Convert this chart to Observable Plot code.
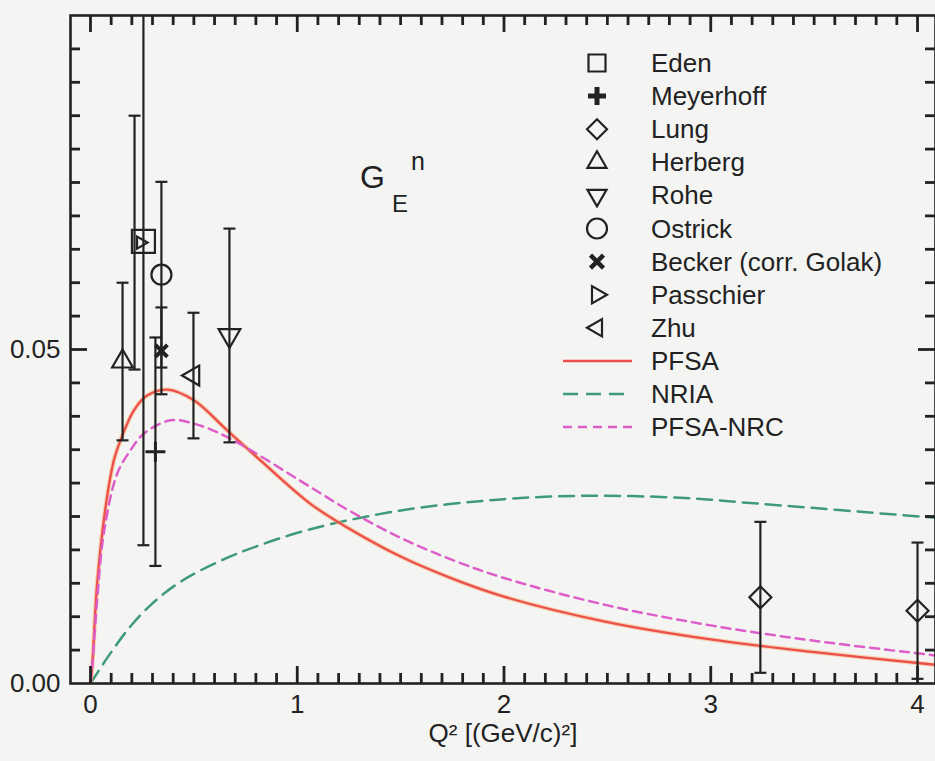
<!DOCTYPE html>
<html>
<head>
<meta charset="utf-8">
<script src="https://cdn.jsdelivr.net/npm/d3@7"></script>
<script src="https://cdn.jsdelivr.net/npm/@observablehq/plot@0.6"></script>
<style>
  html, body { margin: 0; padding: 0; background: #f4f5f3; }
  #wrap { position: relative; width: 935px; height: 761px; overflow: hidden; }
  #overlay { position: absolute; left: 0; top: 0; pointer-events: none; }
  text { font-family: "Liberation Sans", Arial, Helvetica, sans-serif; }
</style>
</head>
<body>
<div id="wrap"></div>
<script>
// ---------------- data ----------------
// experimental points
const expSeries = ["Eden", "Meyerhoff", "Lung", "Lung", "Herberg", "Rohe", "Ostrick", "Becker (corr. Golak)", "Passchier", "Zhu"];
const expQ2     = [0.256, 0.314, 3.24, 4.00, 0.155, 0.672, 0.343, 0.343, 0.213, 0.498];
const expGE     = [0.0662, 0.0347, 0.0129, 0.0109, 0.0482, 0.0521, 0.0612, 0.0498, 0.0660, 0.0461];
const expErr    = [0.0455, 0.0171, 0.0113, 0.0102, 0.0118, 0.0160, 0.0139, 0.0065, 0.0190, 0.0094];

// theory curves
const pfsaQ2 = [0, 0.008, 0.032, 0.073, 0.113, 0.145, 0.21, 0.274, 0.371, 0.50, 0.661, 0.822, 1.064, 1.25, 1.5, 1.75, 2.0, 2.5, 3.0, 3.5, 4.087];
const pfsaGE = [0, 0.0024, 0.0149, 0.0264, 0.0334, 0.0364, 0.0409, 0.0431, 0.0440, 0.0424, 0.0379, 0.0334, 0.0269, 0.0232, 0.0190, 0.0157, 0.0130, 0.0092, 0.0066, 0.0047, 0.0028];

const nrcQ2 = [0, 0.012, 0.032, 0.064, 0.129, 0.193, 0.258, 0.387, 0.50, 0.661, 1.064, 1.25, 1.5, 1.75, 2.0, 2.5, 3.0, 3.5, 4.087];
const nrcGE = [0, 0.0040, 0.0124, 0.0224, 0.0314, 0.0349, 0.0374, 0.0394, 0.0389, 0.0369, 0.0294, 0.0259, 0.0218, 0.0185, 0.0158, 0.0117, 0.0087, 0.0064, 0.0042];

const nriaQ2 = [0, 0.1, 0.2, 0.3, 0.4, 0.5, 0.66, 0.8, 1.064, 1.5, 2.0, 2.4, 2.854, 3.24, 4.087];
const nriaGE = [0, 0.0047, 0.0088, 0.0120, 0.0145, 0.0164, 0.0188, 0.0205, 0.0231, 0.0259, 0.0276, 0.0281, 0.0278, 0.0269, 0.0248];

// axes
const xTickValues = [0, 1, 2, 3, 4];
const yTickValues = [0, 0.05];
const legendNames = ["Eden", "Meyerhoff", "Lung", "Herberg", "Rohe", "Ostrick", "Becker (corr. Golak)", "Passchier", "Zhu", "PFSA", "NRIA", "PFSA-NRC"];
const xLabel = "Q\u00B2 [(GeV/c)\u00B2]";

// ---------------- styling ----------------
const INK = "#222222";
const RED = "#ec4f4c";
const GREEN = "#3e9a7a";
const MAGENTA = "#de5ec9";
const X0 = -0.0967, X1 = 4.087, Y0 = 0, Y1 = 0.1;
const pxX = 206.75, pxY = 6680; // pixels per data unit, for tick lengths

// custom symbols (radius r in px)
const shapes = {
  square: (c, r) => { c.rect(-r, -r, 2 * r, 2 * r); },
  circle: (c, r) => { c.moveTo(r, 0); c.arc(0, 0, r, 0, 2 * Math.PI); },
  diamond: (c, r) => { c.moveTo(0, -r); c.lineTo(r, 0); c.lineTo(0, r); c.lineTo(-r, 0); c.closePath(); },
  plus: (c, r) => { c.moveTo(-r, 0); c.lineTo(r, 0); c.moveTo(0, -r); c.lineTo(0, r); },
  times: (c, r) => { c.moveTo(-r, -r); c.lineTo(r, r); c.moveTo(-r, r); c.lineTo(r, -r); },
  cap: (c, r) => { c.moveTo(-r, 0); c.lineTo(r, 0); },
};
function tri(deg) {
  return (c, r) => {
    for (let k = 0; k < 3; k++) {
      const a = (deg + k * 120) * Math.PI / 180;
      const px = r * Math.cos(a), py = r * Math.sin(a);
      k ? c.lineTo(px, py) : c.moveTo(px, py);
    }
    c.closePath();
  };
}
shapes.triUp = tri(-90);
shapes.triDown = tri(90);
shapes.triLeft = tri(180);
shapes.triRight = tri(0);
const asSymbol = (f) => ({ draw(ctx, size) { f(ctx, Math.sqrt(size / Math.PI)); } });

const seriesStyle = {
  "Eden":                 { shape: "square",   r: 11.5, sw: 2.2, lr: 8.5, lsw: 2.2, dx: 0 },
  "Meyerhoff":            { shape: "plus",     r: 10,   sw: 3,   lr: 9,   lsw: 5,   dx: 0 },
  "Lung":                 { shape: "diamond",  r: 11,   sw: 2.2, lr: 10,  lsw: 2.2, dx: 0 },
  "Herberg":              { shape: "triUp",    r: 12,   sw: 2.2, lr: 11,  lsw: 2.2, dx: 0 },
  "Rohe":                 { shape: "triDown",  r: 12.5, sw: 2.2, lr: 11,  lsw: 2.2, dx: 0 },
  "Ostrick":              { shape: "circle",   r: 10,   sw: 2.2, lr: 10,  lsw: 2.2, dx: 0 },
  "Becker (corr. Golak)": { shape: "times",    r: 6,    sw: 4,   lr: 6.5, lsw: 4.5, dx: 0 },
  "Passchier":            { shape: "triRight", r: 7,    sw: 2.2, lr: 10,  lsw: 2.2, dx: 6 },
  "Zhu":                  { shape: "triLeft",  r: 11.5, sw: 2.2, lr: 10,  lsw: 2.2, dx: 0 },
};

// ---------------- tables ----------------
const pts = expSeries.map((s, i) => ({ series: s, q: expQ2[i], g: expGE[i], e: expErr[i] }));
const caps = pts.flatMap(d => [{ q: d.q, g: d.g - d.e }, { q: d.q, g: d.g + d.e }]);
const toRows = (qs, gs) => qs.map((q, i) => ({ q, g: gs[i] }));
const pfsa = toRows(pfsaQ2, pfsaGE), nrc = toRows(nrcQ2, nrcGE), nria = toRows(nriaQ2, nriaGE);

// tick tables (value + length in px)
const MAJ = 17, MIN = 10;
const xTicks = d3.range(0, 41).map(i => ({ v: i / 10, len: i % 10 === 0 ? MAJ : MIN }));
const yTicks = d3.range(1, 20).map(i => ({ v: i * 0.005, len: i === 10 ? MAJ : MIN }));
const TK = { stroke: INK, strokeWidth: 2.8 };

const marks = [
  // theory curves
  Plot.line(nria, { x: "q", y: "g", curve: "catmull-rom", stroke: GREEN, strokeWidth: 2.5, strokeDasharray: "15,8", clip: true }),
  Plot.line(pfsa, { x: "q", y: "g", curve: "catmull-rom", stroke: "#f7b070", strokeWidth: 4.5, strokeOpacity: 0.5, clip: true }),
  Plot.line(pfsa, { x: "q", y: "g", curve: "catmull-rom", stroke: RED, strokeWidth: 2.3, clip: true }),
  Plot.line(nrc, { x: "q", y: "g", curve: "catmull-rom", stroke: MAGENTA, strokeWidth: 2.5, strokeDasharray: "9,6", clip: true }),
  // error bars
  Plot.ruleX(pts, { x: "q", y1: d => d.g - d.e, y2: d => d.g + d.e, stroke: INK, strokeWidth: 2.2, clip: true }),
  Plot.dot(caps, { x: "q", y: "g", symbol: asSymbol(shapes.cap), r: 6, stroke: INK, strokeWidth: 2.2, fill: "none", clip: true }),
];
// markers, one dot mark per experiment
for (const [name, st] of Object.entries(seriesStyle)) {
  marks.push(Plot.dot(pts.filter(d => d.series === name), {
    x: "q", y: "g", symbol: asSymbol(shapes[st.shape]), r: st.r, dx: st.dx,
    stroke: INK, strokeWidth: st.sw, fill: "none", strokeLinejoin: "miter"
  }));
}
marks.push(Plot.frame({ stroke: INK, strokeWidth: 2.6 }));
// inward ticks on all four sides
marks.push(
  Plot.ruleX(xTicks, { x: d => d.v, y1: Y0, y2: d => Y0 + d.len / pxY, ...TK }),
  Plot.ruleX(xTicks, { x: d => d.v, y1: d => Y1 - d.len / pxY, y2: Y1, ...TK }),
  Plot.ruleY(yTicks, { y: d => d.v, x1: X0, x2: d => X0 + d.len / pxX, ...TK }),
  Plot.ruleY(yTicks, { y: d => d.v, x1: d => X1 - d.len / pxX, x2: X1, ...TK })
);
marks.push(Plot.text([xLabel], { frameAnchor: "bottom", dy: 58, fontSize: 26, fill: INK }));

const chart = Plot.plot({
  width: 935, height: 761,
  marginLeft: 70, marginRight: 0, marginTop: 15, marginBottom: 78,
  style: { background: "transparent", fontFamily: "'Liberation Sans', Arial, Helvetica, sans-serif", fontSize: "26px", color: INK },
  x: { domain: [X0, X1], ticks: xTickValues, tickSize: 0, tickPadding: 11, tickFormat: d3.format("d"), label: null },
  y: { domain: [Y0, Y1], ticks: yTickValues, tickSize: 0, tickPadding: 10, tickFormat: d3.format(".2f"), label: null },
  marks
});
const wrap = document.getElementById("wrap");
wrap.appendChild(chart);

// ---------------- overlay: legend and panel label ----------------
const ov = d3.select(wrap).append("svg").attr("id", "overlay").attr("width", 935).attr("height", 761);

// G_E^n label
const lab = ov.append("g").attr("fill", INK);
lab.append("text").attr("x", 360).attr("y", 188).attr("font-size", 32).text("G");
lab.append("text").attr("x", 392).attr("y", 212).attr("font-size", 24).text("E");
lab.append("text").attr("x", 411).attr("y", 170).attr("font-size", 25).text("n");

const rowY0 = 63, rowStep = 33.1, symX = 597, textX = 651;
const lineStyles = {
  "PFSA": { stroke: RED, dash: null },
  "NRIA": { stroke: GREEN, dash: "15,8" },
  "PFSA-NRC": { stroke: MAGENTA, dash: "9,6" },
};
legendNames.forEach((name, i) => {
  const cy = rowY0 + i * rowStep;
  const g = ov.append("g");
  if (seriesStyle[name]) {
    const st = seriesStyle[name];
    const p = d3.path();
    shapes[st.shape](p, st.lr);
    g.append("path").attr("d", p.toString()).attr("transform", `translate(${symX},${cy})`)
      .attr("fill", "none").attr("stroke", INK).attr("stroke-width", st.lsw).attr("stroke-linejoin", "miter");
  } else {
    const ls = lineStyles[name];
    g.append("line").attr("x1", 563).attr("x2", 632).attr("y1", cy).attr("y2", cy)
      .attr("stroke", ls.stroke).attr("stroke-width", 2.5).attr("stroke-dasharray", ls.dash);
  }
  g.append("text").attr("x", textX).attr("y", cy + 9).attr("font-size", 26).attr("fill", INK).text(name);
});
</script>
</body>
</html>
